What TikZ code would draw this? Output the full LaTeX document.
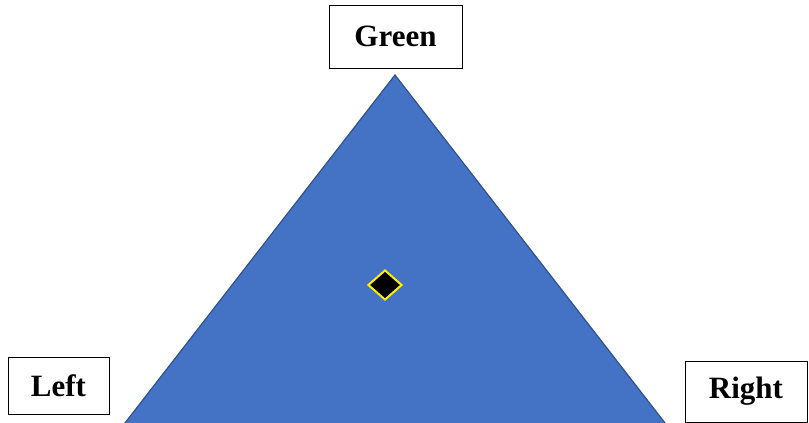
\documentclass[tikz,border=0pt]{standalone}
\usepackage{fontspec}
\setmainfont{Liberation Serif}
\usetikzlibrary{shapes.geometric}
\definecolor{triblue}{HTML}{4472C4}
\definecolor{triedge}{HTML}{2F528F}

\begin{document}
\begin{tikzpicture}[x=1pt, y=-1pt,
    labelbox/.style={draw=black, line width=0.9pt, fill=white, inner sep=0pt,
                     font=\fontsize{31}{36}\selectfont\bfseries},
    marker/.style={diamond, draw=yellow, fill=black, line width=2pt,
                   minimum width=34pt, minimum height=30pt, inner sep=0pt}]
  \useasboundingbox (0,0) rectangle (809,423);
  \clip (0,0) rectangle (809,423);

  % Triangle corners
  \coordinate (top) at (395,75);
  \coordinate (bl) at (111,441);
  \coordinate (br) at (679,441);
  \fill[triblue] (top) -- (bl) -- (br) -- cycle;
  \draw[triedge, line width=1.2pt] (bl) -- (top) -- (br);

  % Centre point
  \node[marker] (mid) at (385,285) {};

  % Corner labels
  \node[labelbox, minimum width=133pt, minimum height=63pt] (green) at (395.5,36.5) {Green};
  \node[labelbox, minimum width=101pt, minimum height=57pt] (left) at (58.5,385.5) {Left};
  \node[labelbox, minimum width=122pt, minimum height=61pt] (right) at (746,391.5) {Right};
\end{tikzpicture}
\end{document}
